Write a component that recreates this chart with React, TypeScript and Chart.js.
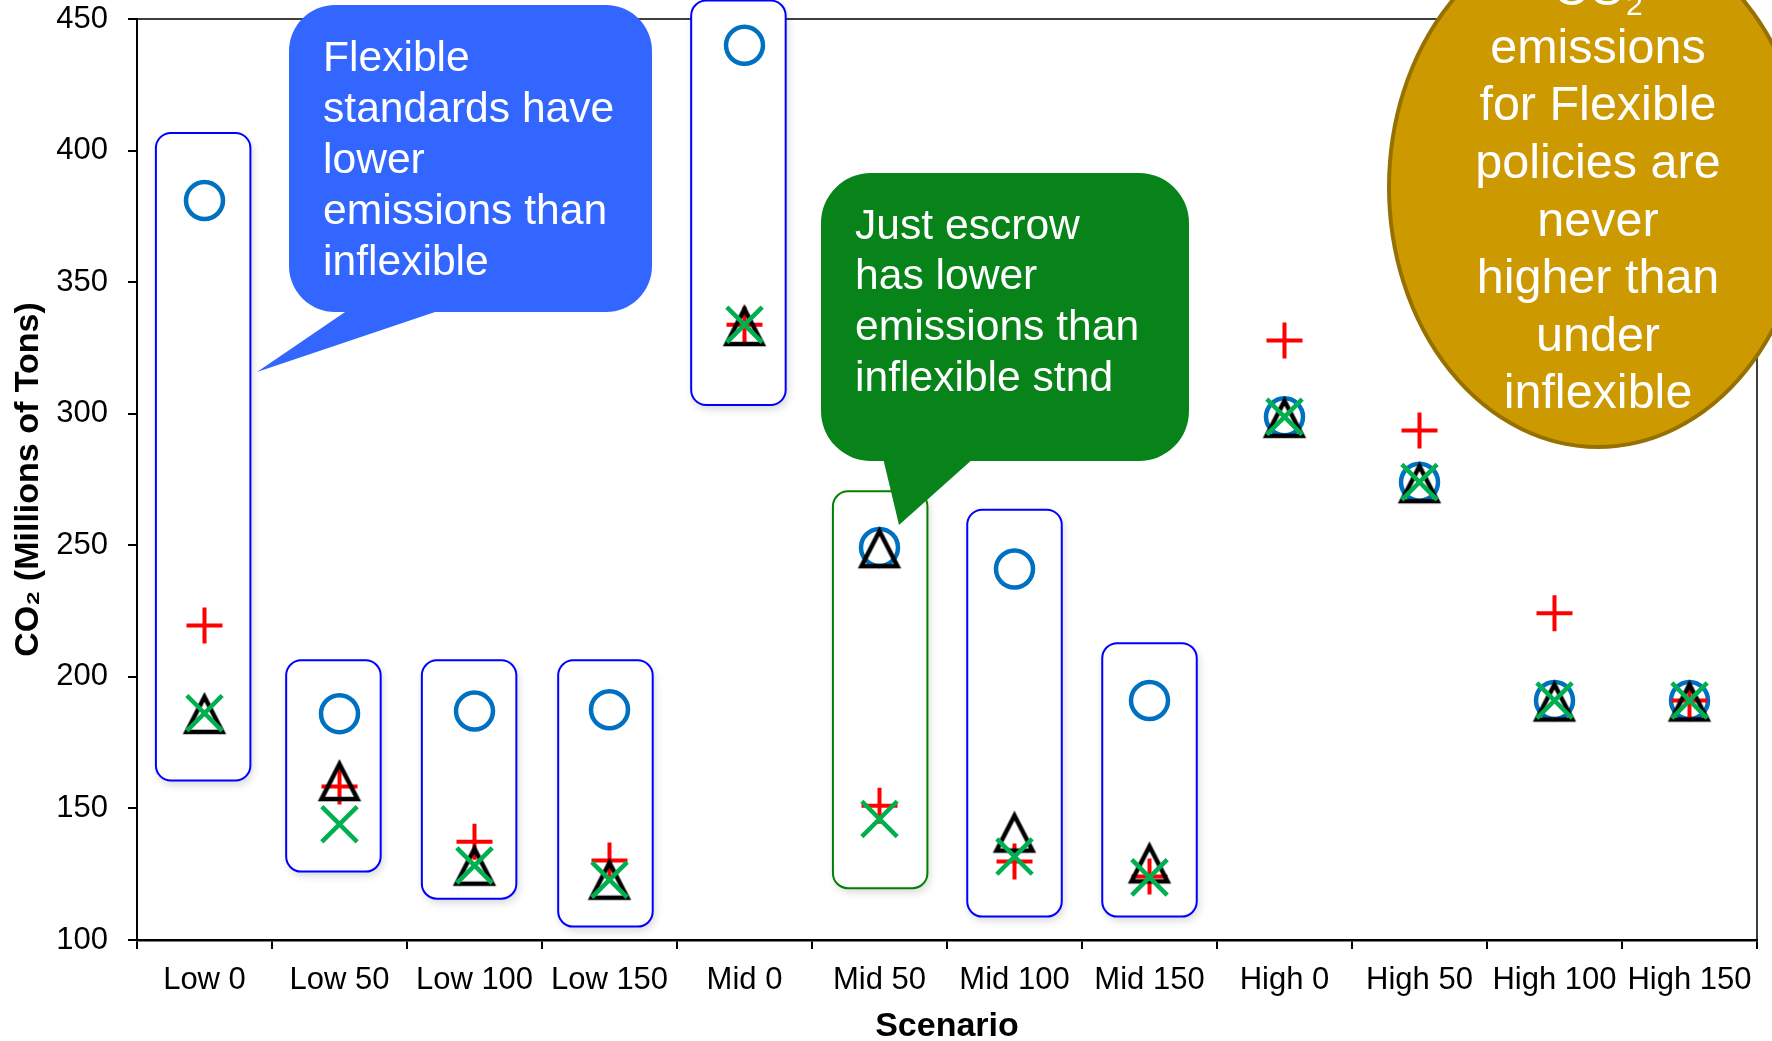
import React, { useEffect, useRef } from 'react';
import { Chart, registerables } from 'chart.js';

Chart.register(...registerables);

// ---------- data ----------
const categories = ['Low 0', 'Low 50', 'Low 100', 'Low 150', 'Mid 0', 'Mid 50', 'Mid 100', 'Mid 150', 'High 0', 'High 50', 'High 100', 'High 150'];
const inflexible = [381, 186, 187, 187.5, 440, 249.2, 241, 191, 298.8, 274, 191, 191];      // blue circles
const escrow = [219.5, 158.3, 137.3, 130.2, 333.8, 151, 129.8, 124.1, 327.8, 293.6, 224.2, 191]; // red plus
const flexible = [186.3, 160.8, 128.6, 123.3, 333.7, 249.3, 141.2, 129.5, 298.8, 274, 191, 191]; // black triangles
const flexEscrow = [186.2, 144, 128.3, 122.9, 333.8, 146, 131.7, 123.8, 298.8, 274, 191, 191]; // green X

const yMin = 100;
const yMax = 450;
const yStep = 50;

// highlighted groups (category, value range)
const boxCategories = ['Low 0', 'Low 50', 'Low 100', 'Low 150', 'Mid 0', 'Mid 50', 'Mid 100', 'Mid 150'];
const boxLow = [160.6, 126, 115.7, 105.1, 303.3, 119.7, 108.9, 108.9];
const boxHigh = [406.7, 206.3, 206.3, 206.3, 457, 270.5, 263.5, 212.8];
const boxIsGreen = [false, false, false, false, false, true, false, false];
// small horizontal nudge of each box, in category widths
const boxShift = [-0.01, -0.045, -0.04, -0.03, -0.045, 0.005, 0, 0];

const blueLines = ['Flexible', 'standards have', 'lower', 'emissions than', 'inflexible'];
const greenLines = ['Just escrow', 'has lower', 'emissions than', 'inflexible stnd'];
const goldLines = ['emissions', 'for Flexible', 'policies are', 'never', 'higher than', 'under', 'inflexible'];

const FONT = "'Liberation Sans', Arial, Helvetica, sans-serif";

function roundRectPath(ctx: CanvasRenderingContext2D, x: number, y: number, w: number, h: number, r: number) {
  ctx.moveTo(x + r, y);
  ctx.lineTo(x + w - r, y);
  ctx.arcTo(x + w, y, x + w, y + r, r);
  ctx.lineTo(x + w, y + h - r);
  ctx.arcTo(x + w, y + h, x + w - r, y + h, r);
  ctx.lineTo(x + r, y + h);
  ctx.arcTo(x, y + h, x, y + h - r, r);
  ctx.lineTo(x, y + r);
  ctx.arcTo(x, y, x + r, y, r);
  ctx.closePath();
}

function makeTriangle(): HTMLCanvasElement {
  const c = document.createElement('canvas');
  c.width = 46;
  c.height = 46;
  const g = c.getContext('2d')!;
  g.strokeStyle = '#000000';
  g.lineWidth = 4.5;
  g.lineJoin = 'miter';
  g.miterLimit = 3;
  g.beginPath();
  g.moveTo(23, 7);
  g.lineTo(41, 42);
  g.lineTo(5, 42);
  g.closePath();
  g.stroke();
  return c;
}

const boxesPlugin = {
  id: 'boxesPlugin',
  beforeDatasetsDraw(chart: any) {
    const { ctx, chartArea, scales } = chart;
    const x = scales.x;
    const y = scales.y;
    ctx.save();
    // top & right frame
    ctx.strokeStyle = '#000000';
    ctx.lineWidth = 1.5;
    ctx.beginPath();
    ctx.moveTo(chartArea.left, chartArea.top);
    ctx.lineTo(chartArea.right, chartArea.top);
    ctx.lineTo(chartArea.right, chartArea.bottom);
    ctx.stroke();

    const cw = x.getPixelForValue(1) - x.getPixelForValue(0);
    boxCategories.forEach((cat, i) => {
      const idx = categories.indexOf(cat);
      const cx = x.getPixelForValue(idx) + boxShift[i] * cw;
      const left = cx - cw * 0.35;
      const w = cw * 0.7;
      const top = y.getPixelForValue(boxHigh[i]);
      const bottom = y.getPixelForValue(boxLow[i]);
      ctx.save();
      ctx.shadowColor = 'rgba(0,0,0,0.16)';
      ctx.shadowBlur = 9;
      ctx.shadowOffsetX = 2;
      ctx.shadowOffsetY = 4;
      ctx.fillStyle = '#ffffff';
      ctx.beginPath();
      roundRectPath(ctx, left, top, w, bottom - top, 15);
      ctx.fill();
      ctx.restore();
      ctx.strokeStyle = boxIsGreen[i] ? '#008000' : '#0000FF';
      ctx.lineWidth = 2;
      ctx.beginPath();
      roundRectPath(ctx, left, top, w, bottom - top, 15);
      ctx.stroke();
    });
    ctx.restore();
  },
};

const calloutPlugin = {
  id: 'calloutPlugin',
  afterDraw(chart: any) {
    const { ctx } = chart;
    ctx.save();
    // blue callout
    ctx.fillStyle = '#3366FF';
    ctx.beginPath();
    roundRectPath(ctx, 289, 5, 363, 307, 46);
    ctx.fill();
    ctx.beginPath();
    ctx.moveTo(348, 310);
    ctx.lineTo(257, 372);
    ctx.lineTo(441, 310);
    ctx.closePath();
    ctx.fill();

    ctx.fillStyle = '#ffffff';
    ctx.font = `42.6px ${FONT}`;
    ctx.textAlign = 'left';
    ctx.textBaseline = 'alphabetic';
    blueLines.forEach((t, i) => ctx.fillText(t, 323, 71 + i * 51));

    // green callout
    ctx.fillStyle = '#07831A';
    ctx.beginPath();
    roundRectPath(ctx, 821, 173, 368, 288, 50);
    ctx.fill();
    ctx.beginPath();
    ctx.moveTo(883, 458);
    ctx.lineTo(899, 525);
    ctx.lineTo(974, 458);
    ctx.closePath();
    ctx.fill();
    ctx.fillStyle = '#ffffff';
    ctx.font = `42.6px ${FONT}`;
    greenLines.forEach((t, i) => ctx.fillText(t, 855, 238.5 + i * 50.8));

    // gold ellipse
    ctx.beginPath();
    ctx.ellipse(1598, 187, 209, 260, 0, 0, Math.PI * 2);
    ctx.fillStyle = '#CC9900';
    ctx.fill();
    ctx.lineWidth = 4;
    ctx.strokeStyle = '#977100';
    ctx.stroke();

    ctx.fillStyle = '#ffffff';
    ctx.textAlign = 'center';
    ctx.font = `48.5px ${FONT}`;
    goldLines.forEach((t, i) => ctx.fillText(t, 1598, 62.7 + i * 57.6));
    // CO2 line (partly cut off)
    ctx.textAlign = 'left';
    const coW = ctx.measureText('CO').width;
    ctx.font = `30px ${FONT}`;
    const twoW = ctx.measureText('2').width;
    const startX = 1598 - (coW + twoW) / 2;
    ctx.font = `48.5px ${FONT}`;
    ctx.fillText('CO', startX, 5);
    ctx.font = `30px ${FONT}`;
    ctx.fillText('2', startX + coW, 15);
    ctx.restore();
  },
};

export default function App() {
  const canvasRef = useRef<HTMLCanvasElement | null>(null);

  useEffect(() => {
    const canvas = canvasRef.current;
    if (!canvas) return;
    const tri = makeTriangle();
    const ds = (label: string, data: number[], style: any, color: string, radius: number, bw: number, order: number) => ({
      label,
      data,
      showLine: false,
      pointStyle: style,
      pointRadius: radius,
      pointHoverRadius: radius,
      pointBorderWidth: bw,
      pointBorderColor: color,
      pointBackgroundColor: 'rgba(0,0,0,0)',
      borderColor: color,
      backgroundColor: 'rgba(0,0,0,0)',
      order,
      clip: false as any,
    });

    const chart = new Chart(canvas, {
      type: 'line',
      data: {
        labels: categories,
        datasets: [
          ds('Flexible + escrow', flexEscrow, 'crossRot', '#00B050', 25, 4.5, 0),
          ds('Flexible', flexible, tri, '#000000', 20, 4.5, 1),
          ds('Escrow', escrow, 'cross', '#FF0000', 18, 4, 2),
          ds('Inflexible', inflexible, 'circle', '#0070C0', 18.5, 4.5, 3),
        ],
      },
      options: {
        animation: false,
        responsive: false,
        devicePixelRatio: 1,
        layout: { autoPadding: false, padding: { left: 0, right: 15, top: 19, bottom: 0 } },
        plugins: {
          legend: { display: false },
          tooltip: { enabled: false },
        },
        events: [],
        scales: {
          x: {
            type: 'category',
            offset: true,
            grid: {
              offset: true,
              drawOnChartArea: false,
              drawTicks: true,
              tickLength: 9,
              color: '#000000',
              lineWidth: 2,
            },
            border: { display: true, color: '#000000', width: 2.5 },
            ticks: {
              color: '#000000',
              font: { family: FONT, size: 31 },
              padding: 13,
              maxRotation: 0,
              autoSkip: false,
            },
            title: {
              display: true,
              text: 'Scenario',
              color: '#000000',
              font: { family: FONT, size: 34, weight: 'bold', lineHeight: 0.86 },
              padding: { top: 0, bottom: 0 },
            },
            afterFit(scale: any) {
              scale.height = 101;
              scale.paddingLeft = 0;
              scale.paddingRight = 0;
            },
          },
          y: {
            type: 'linear',
            min: yMin,
            max: yMax,
            ticks: {
              stepSize: yStep,
              color: '#000000',
              font: { family: FONT, size: 31 },
              padding: 20,
            },
            grid: {
              drawOnChartArea: false,
              drawTicks: true,
              tickLength: 9,
              color: '#000000',
              lineWidth: 2,
            },
            border: { display: true, color: '#000000', width: 2 },
            title: {
              display: true,
              text: 'CO₂ (Millions of Tons)',
              color: '#000000',
              font: { family: FONT, size: 34, weight: 'bold' },
              padding: { top: 8, bottom: 0 },
            },
            afterFit(scale: any) {
              scale.width = 137;
              scale.paddingTop = 0;
              scale.paddingBottom = 0;
            },
          },
        },
      },
      plugins: [boxesPlugin, calloutPlugin],
    });

    return () => {
      chart.destroy();
    };
  }, []);

  return (
    <div style={{ position: 'absolute', left: 0, top: 0, width: 1772, height: 1041, background: '#ffffff', overflow: 'hidden' }}>
      <canvas ref={canvasRef} width={1772} height={1041} style={{ display: 'block' }} />
    </div>
  );
}
